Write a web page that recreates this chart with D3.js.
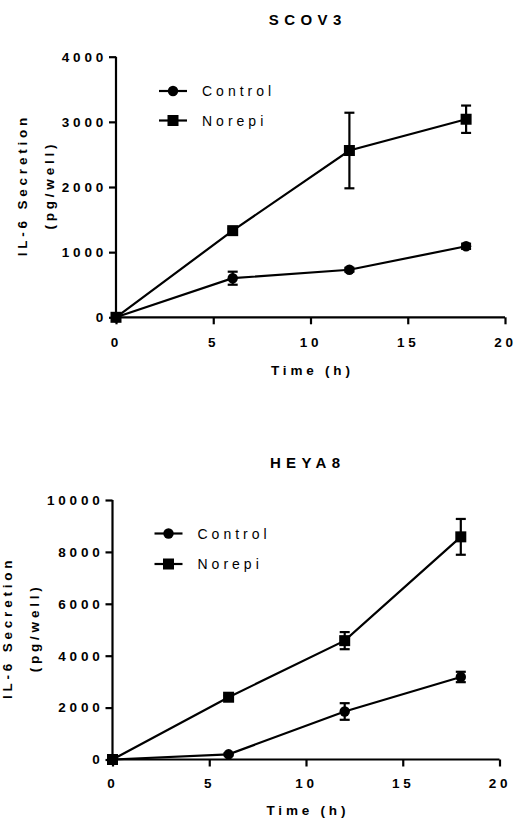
<!DOCTYPE html>
<html>
<head>
<meta charset="utf-8">
<script src="https://cdn.jsdelivr.net/npm/d3@7"></script>
<style>
  body { margin: 0; background: white; }
  svg { display: block; font-family: "Liberation Sans", Arial, sans-serif; }
</style>
</head>
<body>
<div id="chart"></div>
<script>
// Time points (h)
const times = [0, 6, 12, 18];
const xTicks = [0, 5, 10, 15, 20];

// SCOV3
const scovControl = [0, 600, 730, 1090];
const scovControlErr = [0, 100, 30, 40];
const scovNorepi = [0, 1330, 2560, 3040];
const scovNorepiErr = [0, 30, 580, 210];
const scovTicks = [0, 1000, 2000, 3000, 4000];

// HEYA8
const heyaControl = [0, 200, 1850, 3180];
const heyaControlErr = [0, 40, 320, 200];
const heyaNorepi = [0, 2400, 4580, 8580];
const heyaNorepiErr = [0, 60, 330, 690];
const heyaTicks = [0, 2000, 4000, 6000, 8000, 10000];

const seriesNames = ["Control", "Norepi"];

const width = 517, height = 825;
const svg = d3.select("#chart").append("svg")
    .attr("width", width)
    .attr("height", height);

const LS = 3.8; // letter spacing of bold labels

function drawPanel(opt) {
    const x = d3.scaleLinear().domain([0, 20]).range([opt.left, opt.right]);
    const y = d3.scaleLinear().domain([0, opt.yMax]).range([opt.bottom, opt.top]);
    const g = svg.append("g");

    // Title
    g.append("text")
        .attr("x", opt.titleX + 2.7)
        .attr("y", opt.titleY)
        .attr("text-anchor", "middle")
        .attr("font-size", "15px")
        .attr("font-weight", "bold")
        .attr("letter-spacing", "5.4px")
        .text(opt.title);

    // Axes
    const xAxis = g.append("g")
        .attr("transform", `translate(0,${opt.bottom})`)
        .call(d3.axisBottom(x).tickValues(xTicks).tickSize(7).tickPadding(opt.xPad).tickFormat(d3.format("d")));
    const yAxis = g.append("g")
        .attr("transform", `translate(${opt.left},0)`)
        .call(d3.axisLeft(y).tickValues(opt.ticks).tickSize(7).tickPadding(2).tickFormat(d3.format("d")));

    [xAxis, yAxis].forEach(a => {
        a.select(".domain").attr("stroke", "#000").attr("stroke-width", 2.2);
        a.selectAll(".tick line").attr("stroke", "#000").attr("stroke-width", 2.2);
        a.selectAll(".tick text")
            .attr("fill", "#000")
            .attr("font-size", "13.5px")
            .attr("font-weight", "bold")
            .attr("letter-spacing", LS + "px")
            .attr("font-family", "Liberation Sans, Arial, sans-serif");
    });
    xAxis.selectAll(".domain").attr("d", `M${opt.left},0H${opt.right}`);
    yAxis.selectAll(".domain").attr("d", `M0,${opt.bottom}V${opt.top}`);

    // Axis titles
    g.append("text")
        .attr("x", (opt.left + opt.right) / 2 + LS / 2)
        .attr("y", opt.bottom + opt.xTitleGap)
        .attr("text-anchor", "middle")
        .attr("font-size", "13.5px")
        .attr("font-weight", "bold")
        .attr("letter-spacing", LS + "px")
        .text("Time (h)");

    const yl = g.append("text")
        .attr("transform", `translate(${opt.yLabelX},${(opt.top + opt.bottom) / 2 - LS / 2}) rotate(-90)`)
        .attr("text-anchor", "middle")
        .attr("font-size", "13.5px")
        .attr("font-weight", "bold")
        .attr("letter-spacing", LS + "px");
    yl.append("tspan").attr("x", 0).attr("dy", 0).text("IL-6 Secretion");
    yl.append("tspan").attr("x", 0).attr("dy", 27).text("(pg/well)");

    const line = d3.line().x((d, i) => x(times[i])).y(d => y(d));

    opt.series.forEach((s, k) => {
        g.append("path")
            .datum(s.values)
            .attr("fill", "none")
            .attr("stroke", "#000")
            .attr("stroke-width", 2.2)
            .attr("d", line);

        // Error bars
        s.values.forEach((v, i) => {
            const e = s.errs[i];
            if (!e) return;
            const cx = x(times[i]);
            const eg = g.append("g").attr("stroke", "#000").attr("stroke-width", 2.2);
            eg.append("line").attr("x1", cx).attr("x2", cx).attr("y1", y(v - e)).attr("y2", y(v + e));
            eg.append("line").attr("x1", cx - 5).attr("x2", cx + 5).attr("y1", y(v - e)).attr("y2", y(v - e));
            eg.append("line").attr("x1", cx - 5).attr("x2", cx + 5).attr("y1", y(v + e)).attr("y2", y(v + e));
        });

        // Markers
        s.values.forEach((v, i) => {
            drawMarker(g, k, x(times[i]), y(v));
        });
    });

    // Legend
    seriesNames.forEach((name, k) => {
        const ly = opt.legendY + k * opt.legendGap;
        g.append("line")
            .attr("x1", opt.legendX - 14).attr("x2", opt.legendX + 14)
            .attr("y1", ly).attr("y2", ly)
            .attr("stroke", "#000").attr("stroke-width", 2.2);
        drawMarker(g, k, opt.legendX, ly);
        g.append("text")
            .attr("x", opt.legendX + 29)
            .attr("y", ly + 5)
            .attr("font-size", "14px")
            .attr("letter-spacing", "4px")
            .text(name);
    });
}

function drawMarker(g, k, cx, cy) {
    if (k === 0) {
        g.append("circle").attr("cx", cx).attr("cy", cy).attr("r", 5.2).attr("fill", "#000");
    } else {
        g.append("rect").attr("x", cx - 5.5).attr("y", cy - 5.5)
            .attr("width", 11).attr("height", 11).attr("fill", "#000");
    }
}

drawPanel({
    title: "SCOV3", titleX: 305, titleY: 25,
    left: 116, right: 505, top: 56.7, bottom: 317.3, yMax: 4000,
    ticks: scovTicks, yLabelX: 26.5, xPad: 13, xTitleGap: 58,
    legendX: 173, legendY: 91, legendGap: 29.5,
    series: [
        { values: scovControl, errs: scovControlErr },
        { values: scovNorepi, errs: scovNorepiErr }
    ]
});

drawPanel({
    title: "HEYA8", titleX: 305, titleY: 468,
    left: 112.5, right: 499.5, top: 500, bottom: 759.5, yMax: 10000,
    ticks: heyaTicks, yLabelX: 12.4, xPad: 11.6, xTitleGap: 55.5,
    legendX: 168.5, legendY: 533.5, legendGap: 30.5,
    series: [
        { values: heyaControl, errs: heyaControlErr },
        { values: heyaNorepi, errs: heyaNorepiErr }
    ]
});
</script>
</body>
</html>
